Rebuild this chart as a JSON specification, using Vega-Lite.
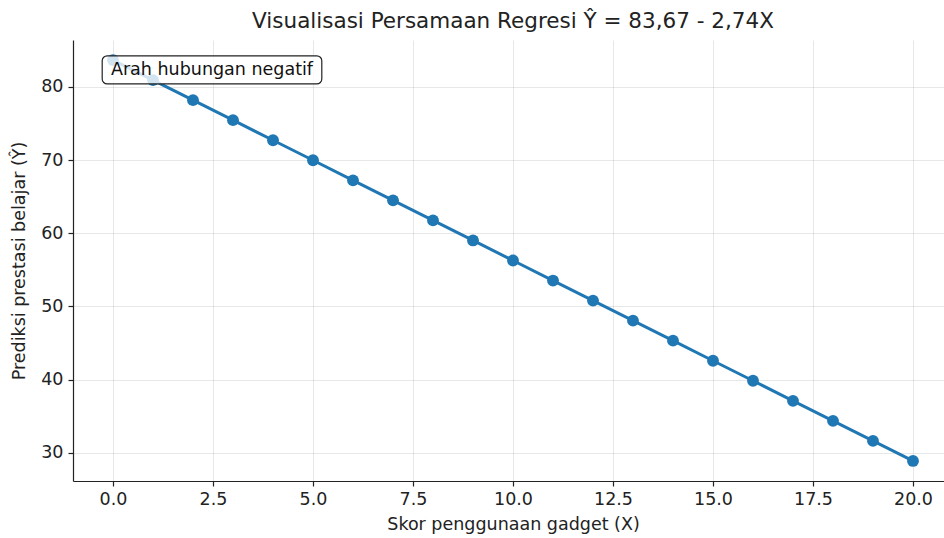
{
  "$schema": "https://vega.github.io/schema/vega-lite/v6.json",
  "width": 880,
  "height": 441,
  "autosize": {"type": "none"},
  "padding": {"left": 73, "top": 40, "right": 0, "bottom": 57},
  "background": "white",
  "config": {
    "font": "DejaVu Sans",
    "view": {"stroke": null},
    "axis": {
      "domain": true,
      "domainColor": "#222222",
      "domainWidth": 1.2,
      "grid": true,
      "gridColor": "#b0b0b0",
      "gridOpacity": 0.3,
      "gridWidth": 1,
      "tickColor": "#222222",
      "tickSize": 5,
      "tickWidth": 1.2,
      "labelFont": "DejaVu Sans",
      "labelFontSize": 17.5,
      "labelColor": "#222222",
      "titleFont": "DejaVu Sans",
      "titleFontSize": 17.5,
      "titleFontWeight": "normal",
      "titleColor": "#222222"
    }
  },
  "title": {
    "text": "Visualisasi Persamaan Regresi Ŷ = 83,67 - 2,74X",
    "fontSize": 21.5,
    "fontWeight": "normal",
    "font": "DejaVu Sans",
    "color": "#222222",
    "anchor": "middle",
    "offset": 8
  },
  "datasets": {
    "points": [
      {"x": 0, "y": 83.67}, {"x": 1, "y": 80.93}, {"x": 2, "y": 78.19},
      {"x": 3, "y": 75.45}, {"x": 4, "y": 72.71}, {"x": 5, "y": 69.97},
      {"x": 6, "y": 67.23}, {"x": 7, "y": 64.49}, {"x": 8, "y": 61.75},
      {"x": 9, "y": 59.01}, {"x": 10, "y": 56.27}, {"x": 11, "y": 53.53},
      {"x": 12, "y": 50.79}, {"x": 13, "y": 48.05}, {"x": 14, "y": 45.31},
      {"x": 15, "y": 42.57}, {"x": 16, "y": 39.83}, {"x": 17, "y": 37.09},
      {"x": 18, "y": 34.35}, {"x": 19, "y": 31.61}, {"x": 20, "y": 28.87}
    ],
    "note": [
      {"label": "Arah hubungan negatif", "x0": -0.27, "x1": 5.22, "y0": 80.4, "y1": 84.25, "xt": 2.475, "yt": 82.3}
    ]
  },
  "layer": [
    {
      "data": {"name": "points"},
      "mark": {"type": "line", "color": "#1f77b4", "strokeWidth": 3, "clip": true},
      "encoding": {
        "x": {
          "field": "x", "type": "quantitative",
          "scale": {"domain": [-1, 21], "nice": false, "zero": false},
          "axis": {"values": [0, 2.5, 5, 7.5, 10, 12.5, 15, 17.5, 20], "format": ".1f", "title": "Skor penggunaan gadget (X)", "labelPadding": 4, "titlePadding": 8}
        },
        "y": {
          "field": "y", "type": "quantitative",
          "scale": {"domain": [26.13, 86.41], "nice": false, "zero": false},
          "axis": {"values": [30, 40, 50, 60, 70, 80], "title": "Prediksi prestasi belajar (Ŷ)", "labelPadding": 5, "titlePadding": 12}
        }
      }
    },
    {
      "data": {"name": "points"},
      "mark": {"type": "circle", "color": "#1f77b4", "opacity": 1, "size": 140},
      "encoding": {
        "x": {"field": "x", "type": "quantitative"},
        "y": {"field": "y", "type": "quantitative"}
      }
    },
    {
      "mark": {"type": "rule", "color": "#222222", "strokeWidth": 1.2},
      "encoding": {
        "y": {"datum": 86.41, "type": "quantitative"}
      }
    },
    {
      "data": {"name": "note"},
      "mark": {"type": "rect", "fill": "white", "fillOpacity": 0.8, "stroke": "#222222", "strokeWidth": 1.2, "cornerRadius": 5},
      "encoding": {
        "x": {"field": "x0", "type": "quantitative"},
        "x2": {"field": "x1"},
        "y": {"field": "y0", "type": "quantitative"},
        "y2": {"field": "y1"}
      }
    },
    {
      "data": {"name": "note"},
      "mark": {"type": "text", "fontSize": 17.5, "font": "DejaVu Sans", "color": "#111111", "align": "center", "baseline": "middle"},
      "encoding": {
        "x": {"field": "xt", "type": "quantitative"},
        "y": {"field": "yt", "type": "quantitative"},
        "text": {"field": "label"}
      }
    }
  ]
}
